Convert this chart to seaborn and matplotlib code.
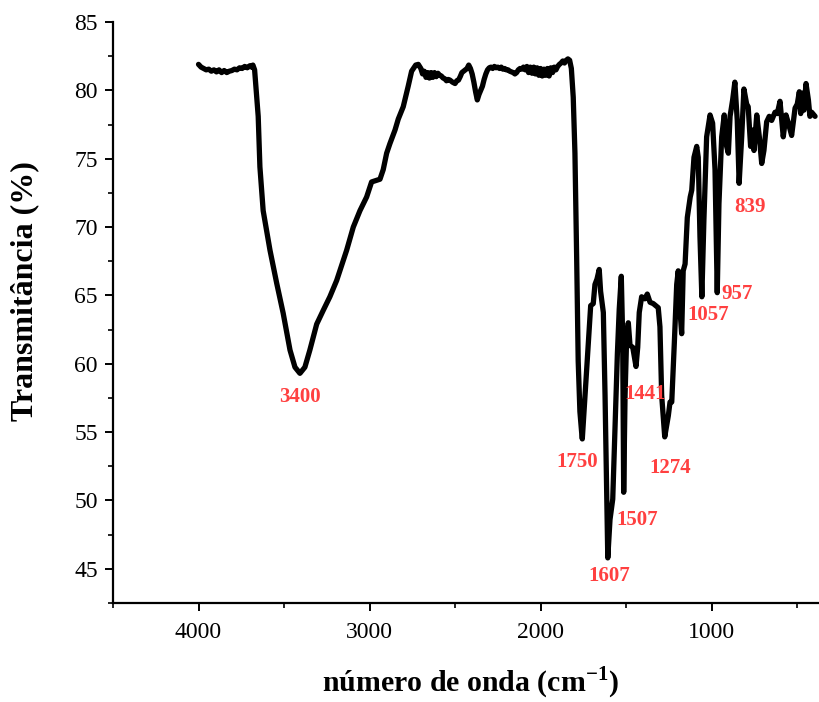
import numpy as np
import pandas as pd
import matplotlib
matplotlib.use("Agg")
import matplotlib.pyplot as plt
from matplotlib.ticker import MultipleLocator
import seaborn as sns

# ---------------- data ----------------
wavenumber = [
    4000, 3985, 3970, 3955, 3940, 3925, 3910, 3895, 3880, 3865, 3850, 3835, 3820, 3805,
    3790, 3775, 3760, 3745, 3730, 3715, 3700, 3690, 3682, 3672,
    3651, 3641, 3622, 3582, 3543, 3505, 3465, 3436, 3407, 3378, 3349, 3309, 3271, 3232,
    3192, 3134, 3095, 3056, 3017, 2988, 2939, 2920, 2900, 2881, 2851, 2832, 2803, 2774,
    2754, 2730, 2715, 2700, 2690, 2680, 2670, 2660, 2650, 2640, 2630, 2620, 2610, 2600,
    2590, 2580, 2570, 2560, 2550, 2540, 2530, 2515, 2500, 2490, 2480, 2470, 2460, 2450,
    2440, 2430, 2420, 2410, 2400, 2390, 2380, 2370, 2360, 2350, 2340, 2330, 2320, 2310,
    2300, 2290, 2280, 2270, 2260, 2250, 2240, 2230, 2220, 2210, 2200, 2190, 2180, 2170,
    2160, 2150, 2140, 2130, 2120, 2110, 2100, 2090, 2080, 2070, 2060, 2050, 2040, 2030,
    2020, 2010, 2000, 1990, 1980, 1970, 1960, 1950, 1940, 1930, 1920, 1910, 1900, 1890,
    1880, 1870, 1860, 1850, 1840, 1830, 1820,
    1809, 1799, 1789, 1780, 1770, 1760, 1756, 1740, 1721, 1707, 1692, 1682, 1670, 1657,
    1649, 1633, 1623, 1613, 1607, 1594, 1578, 1565, 1551, 1540, 1528, 1520, 1514, 1506,
    1496, 1487, 1477, 1461, 1442, 1432, 1423, 1409, 1390, 1376, 1360, 1341, 1312, 1302,
    1292, 1274, 1253, 1243, 1233, 1218, 1204, 1195, 1188, 1175, 1166, 1155, 1142, 1125,
    1116, 1103, 1087, 1078, 1068, 1057, 1045, 1029, 1009, 994, 980, 967, 957, 941, 926,
    912, 902, 892, 877, 864, 850, 839, 824, 811, 795, 786, 772, 760, 752, 736, 721, 707,
    694, 678, 663, 649, 629, 616, 600, 590, 581, 565, 551, 532, 512, 499, 487, 479, 467,
    460, 448, 434, 425, 415, 395,
]
transmittance = [
    81.9, 81.7, 81.6, 81.5, 81.55, 81.4, 81.5, 81.35, 81.5, 81.3, 81.45, 81.3, 81.4, 81.45,
    81.55, 81.5, 81.65, 81.6, 81.75, 81.65, 81.8, 81.7, 81.85, 81.5,
    78.1, 74.4, 71.2, 68.3, 65.9, 63.7, 61.0, 59.75, 59.3, 59.75, 61.0, 62.9, 63.9, 64.9,
    66.1, 68.3, 70.0, 71.2, 72.2, 73.3, 73.5, 74.2, 75.4, 76.1, 77.1, 77.9, 78.8, 80.3,
    81.4, 81.85, 81.9, 81.6, 81.2, 81.4, 80.95, 81.3, 80.9, 81.3, 80.95, 81.3, 81.0, 81.25,
    81.1, 81.05, 80.9, 80.85, 80.7, 80.8, 80.75, 80.6, 80.5, 80.7, 80.75, 81.0, 81.3, 81.4,
    81.5, 81.6, 81.85, 81.6, 81.2, 80.6, 79.9, 79.3, 79.7, 80.0, 80.3, 80.8, 81.2, 81.5,
    81.65, 81.7, 81.6, 81.75, 81.65, 81.7, 81.6, 81.7, 81.55, 81.6, 81.5, 81.5, 81.4, 81.35,
    81.3, 81.2, 81.3, 81.5, 81.6, 81.55, 81.7, 81.5, 81.75, 81.3, 81.7, 81.25, 81.7, 81.2,
    81.65, 81.1, 81.6, 81.05, 81.55, 81.1, 81.6, 81.05, 81.65, 81.3, 81.7, 81.5, 81.75, 81.9,
    82.0, 82.15, 82.0, 82.2, 82.3, 82.2, 81.6,
    79.5, 75.4, 67.8, 60.2, 56.5, 55.0, 54.5, 57.7, 61.5, 64.25, 64.4, 65.8, 66.2, 66.9,
    65.3, 63.75, 57.7, 50.1, 45.8, 48.6, 50.1, 55.2, 60.7, 64.0, 66.4, 62.0, 50.6, 57.7,
    62.2, 63.0, 61.35, 61.2, 59.8, 61.2, 63.75, 64.9, 64.75, 65.1, 64.5, 64.4, 64.1, 62.7,
    57.7, 54.65, 56.2, 57.2, 57.2, 61.5, 65.8, 66.8, 64.5, 62.2, 66.8, 67.3, 70.7, 72.2,
    72.7, 75.1, 75.9, 75.1, 69.3, 64.9, 70.5, 76.6, 78.2, 77.6, 74.2, 65.2, 71.7, 76.6, 78.2,
    75.9, 75.4, 78.1, 79.3, 80.6, 77.8, 73.2, 76.6, 80.1, 79.0, 78.8, 75.9, 77.1, 75.6, 78.2,
    76.6, 74.65, 75.6, 77.7, 78.1, 77.8, 78.4, 78.3, 79.2, 77.8, 76.6, 78.2, 77.6, 76.7, 78.7,
    79.0, 79.9, 78.3, 79.8, 78.55, 80.5, 79.3, 78.1, 78.4, 78.1,
]

peak_labels = ["3400", "1750", "1607", "1507", "1441", "1274", "1057", "957", "839"]

x_major_ticks = [4000, 3000, 2000, 1000]
y_major_ticks = [45, 50, 55, 60, 65, 70, 75, 80, 85]

# ---------------- layout ----------------
label_xy = [(3407, 57.6), (1787, 52.8), (1600, 44.5), (1436, 48.6), (1389, 57.8),
            (1243, 52.4), (1021, 63.6), (851, 65.1), (775, 71.5)]

df = pd.DataFrame({"wavenumber": wavenumber, "transmittance": transmittance})

sns.set_style("ticks")
plt.rcParams["font.family"] = ["Liberation Serif", "DejaVu Serif"]
plt.rcParams["text.color"] = "black"
plt.rcParams["axes.labelcolor"] = "black"
plt.rcParams["xtick.color"] = "black"
plt.rcParams["ytick.color"] = "black"
plt.rcParams["mathtext.fontset"] = "custom"
plt.rcParams["mathtext.rm"] = "Liberation Serif"
plt.rcParams["mathtext.bf"] = "Liberation Serif:bold"

fig = plt.figure(figsize=(8.19, 7.02), dpi=100)
ax = fig.add_axes([113 / 819, 1 - 603 / 702, 1 - 113 / 819, (603 - 22) / 702])

sns.lineplot(data=df, x="wavenumber", y="transmittance", sort=False,
             color="black", linewidth=3.8, ax=ax, estimator=None)

ax.set_xlim(4500, 372)
ax.set_ylim(42.5, 85)
ax.set_xticks(x_major_ticks)
ax.set_yticks(y_major_ticks)
ax.xaxis.set_minor_locator(MultipleLocator(500))
ax.yaxis.set_minor_locator(MultipleLocator(2.5))
ax.tick_params(axis="both", which="major", direction="out", length=6, width=1.4,
               labelsize=17, color="black", labelcolor="black")
ax.tick_params(axis="x", which="major", pad=8)
ax.tick_params(axis="y", which="major", pad=5)
ax.tick_params(axis="both", which="minor", direction="out", length=3.5, width=1.2,
               color="black")
for s in ["left", "bottom"]:
    ax.spines[s].set_linewidth(1.6)
    ax.spines[s].set_color("black")
sns.despine(ax=ax)

ax.set_xlabel(r"número de onda (cm$^{\mathbf{-1}}$)", fontsize=21.5, fontweight="bold",
              color="black")
ax.set_ylabel("Transmitância (%)", fontsize=23, fontweight="bold", color="black")
ax.xaxis.label.set_va("baseline")
ax.xaxis.set_label_coords(0.507, -0.153)
ax.yaxis.label.set_va("center")
ax.yaxis.set_label_coords(-0.1246, 0.537)

for lab, (lx, ly) in zip(peak_labels, label_xy):
    ax.text(lx, ly, lab, color="#ff4040", fontsize=15, fontweight="bold",
            ha="center", va="center")

fig.savefig("out.png", dpi=100)
